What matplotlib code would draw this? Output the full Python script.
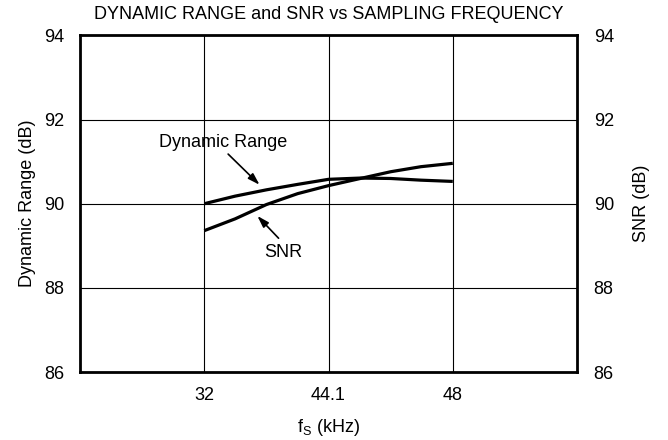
import numpy as np
import matplotlib
matplotlib.use("Agg")
import matplotlib.pyplot as plt

plt.rcParams['font.family'] = ['Liberation Sans', 'DejaVu Sans']
plt.rcParams['mathtext.fontset'] = 'custom'
plt.rcParams['mathtext.rm'] = 'Liberation Sans'
plt.rcParams['mathtext.it'] = 'Liberation Sans'

# tick frequencies, evenly spaced on the axis
fs_ticks = [32, 44.1, 48]
fs_labels = ["32", "44.1", "48"]

# curves (kHz, dB)
fs_khz = [32, 35.0, 38.05, 41.1, 44.1, 45.1, 46.05, 47.0, 48]
dyn_range = [90.00, 90.18, 90.33, 90.46, 90.58, 90.61, 90.60, 90.56, 90.53]
snr = [89.36, 89.64, 89.98, 90.24, 90.43, 90.60, 90.76, 90.88, 90.96]


def to_pos(f):
    # piecewise linear axis: each tick frequency one unit apart
    return np.interp(f, fs_ticks, [1, 2, 3])


fs = 13
fig = plt.figure(figsize=(6.68, 4.4), dpi=100)
ax = fig.add_axes([0.1198, 0.1545, 0.744, 0.765])

ax.plot(to_pos(fs_khz), dyn_range, color="black", lw=2.3, solid_capstyle="butt")
ax.plot(to_pos(fs_khz), snr, color="black", lw=2.3, solid_capstyle="butt")

ax.set_xlim(0, 4)
ax.set_ylim(86, 94)
ax.set_xticks([1, 2, 3])
ax.set_xticklabels(fs_labels)
ax.set_yticks([86, 88, 90, 92, 94])
ax.grid(True, color="black", lw=0.8)
ax.tick_params(axis="y", length=0, labelsize=fs, pad=11)
ax.tick_params(axis="x", length=0, labelsize=fs, pad=11)

for s in ax.spines.values():
    s.set_linewidth(2.0)

ax2 = ax.twinx()
ax2.set_ylim(86, 94)
ax2.set_yticks([86, 88, 90, 92, 94])
ax2.tick_params(length=0, labelsize=fs, pad=12)
for s in ax2.spines.values():
    s.set_visible(False)

ax.set_title("DYNAMIC RANGE and SNR vs SAMPLING FREQUENCY", fontsize=fs, pad=12)
ax.set_ylabel("Dynamic Range (dB)", fontsize=fs, labelpad=6)
ax2.set_ylabel("SNR (dB)", fontsize=fs, labelpad=14)
ax.set_xlabel(r"f$_\mathrm{S}$ (kHz)", fontsize=fs, labelpad=9)

arrow = dict(arrowstyle="-|>,head_width=0.22,head_length=0.7", color="black", lw=1.2,
             shrinkA=0, shrinkB=0)
ax.text(1.154, 91.45, "Dynamic Range", ha="center", va="center", fontsize=fs)
ax.annotate("", xy=(1.445, 90.45), xytext=(1.192, 91.18), arrowprops=arrow)
ax.text(1.635, 88.83, "SNR", ha="center", va="center", fontsize=fs)
ax.annotate("", xy=(1.427, 89.71), xytext=(1.598, 89.18), arrowprops=arrow)

fig.savefig("out.png", dpi=100)
